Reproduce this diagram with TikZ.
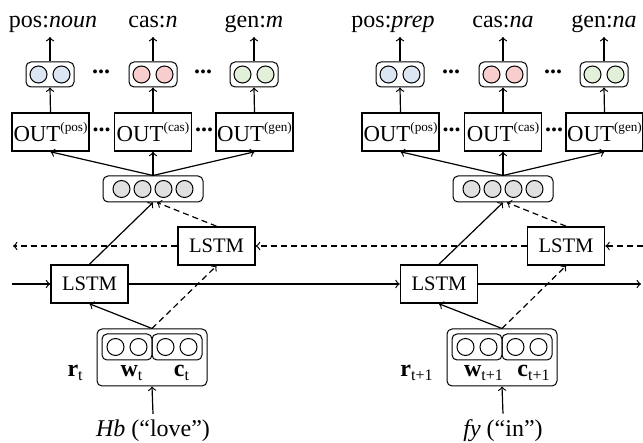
\documentclass[tikz,border=0pt]{standalone}
\usepackage{fontspec}
\setmainfont{Liberation Serif}
\usetikzlibrary{positioning}
\definecolor{posblue}{HTML}{DCE6F2}
\definecolor{casred}{HTML}{F8CDCD}
\definecolor{gengreen}{HTML}{E2EFD9}
\definecolor{hidgrey}{HTML}{E0E0E0}
\tikzset{lstm/.style={draw,line width=0.8pt,minimum width=38.5pt,minimum height=19pt,inner sep=0pt,
          font=\fontsize{10.3}{12}\selectfont},
        outbox/.style={draw,line width=0.8pt,minimum width=38.5pt,minimum height=19pt,inner sep=0pt,
          font=\fontsize{11.4}{13}\selectfont},
        vec/.style={draw,rounded corners=2.5pt,line width=0.5pt,inner sep=0pt},
        pair/.style={vec,minimum width=24pt,minimum height=12.5pt},
        unit/.style={draw,circle,line width=0.5pt,minimum size=8.5pt,inner sep=0pt},
        tag/.style={anchor=south,inner sep=2pt,text depth=2.5pt},
        word/.style={anchor=base,inner sep=3pt},
        dots/.style={inner sep=0pt,font=\fontsize{12}{14}\selectfont\bfseries},
        link/.style={->,line width=0.6pt},
        back/.style={->,line width=0.6pt,dash pattern=on 3pt off 2pt}}
\newcommand{\outtag}[1]{OUT\raisebox{0.42em}{\fontsize{6.6}{7}\selectfont(#1)}}

\begin{document}
\begin{tikzpicture}[x=0.5pt,y=-0.5pt,font=\fontsize{12}{14}\selectfont]
\useasboundingbox (0,0) rectangle (643,443);

% word t
\node[tag] (posta) at (53,37) {pos:\textit{noun}};
\node[tag] (casta) at (153,37) {cas:\textit{n}};
\node[tag] (genta) at (254,37) {gen:\textit{m}};
\node[pair] (posa) at (50,74.5) {};
\node[unit,fill=posblue] (posa1) at ([xshift=-5.75pt]posa.center) {};
\node[unit,fill=posblue] (posa2) at ([xshift=5.75pt]posa.center) {};
\node[pair] (casa) at (153,74.5) {};
\node[unit,fill=casred] (casa1) at ([xshift=-5.75pt]casa.center) {};
\node[unit,fill=casred] (casa2) at ([xshift=5.75pt]casa.center) {};
\node[pair] (gena) at (254,74.5) {};
\node[unit,fill=gengreen] (gena1) at ([xshift=-5.75pt]gena.center) {};
\node[unit,fill=gengreen] (gena2) at ([xshift=5.75pt]gena.center) {};
\node[dots] (dotsa1) at (101,72) {...};
\node[dots] (dotsa2) at (203,72) {...};
\node[outbox] (outposa) at (50.5,132) {\outtag{pos}};
\node[outbox] (outcasa) at (153,132) {\outtag{cas}};
\node[outbox] (outgena) at (254.5,132) {\outtag{gen}};
\node[dots] (dotsa3) at (101.5,130) {...};
\node[dots] (dotsa4) at (204,130) {...};
\node[vec,minimum width=50pt,minimum height=13pt] (hida) at (153,189) {};
\node[unit,fill=hidgrey] (hida1) at ([xshift=-15.75pt]hida.center) {};
\node[unit,fill=hidgrey] (hida2) at ([xshift=-5.25pt]hida.center) {};
\node[unit,fill=hidgrey] (hida3) at ([xshift=5.25pt]hida.center) {};
\node[unit,fill=hidgrey] (hida4) at ([xshift=15.75pt]hida.center) {};
\node[lstm] (bwda) at (216.5,246) {LSTM};
\node[lstm] (fwda) at (89.5,284) {LSTM};
\node[vec,minimum width=55pt,minimum height=28.5pt] (ina) at (152,357.5) {};
\node[vec,minimum width=25pt,minimum height=13pt] (wa) at (127,347) {};
\node[vec,minimum width=25pt,minimum height=13pt] (ca) at (177,347) {};
\node[unit] (wa1) at ([xshift=-5.75pt]wa.center) {};
\node[unit] (wa2) at ([xshift=5.75pt]wa.center) {};
\node[unit] (ca1) at ([xshift=-5.75pt]ca.center) {};
\node[unit] (ca2) at ([xshift=5.75pt]ca.center) {};
\node[inner sep=0pt] (wla) at (132,373) {\textbf{w}\textsubscript{t}};
\node[inner sep=0pt] (cla) at (182,373) {\textbf{c}\textsubscript{t}};
\node[inner sep=0pt,anchor=east] (rla) at (84,373) {\textbf{r}\textsubscript{t}};
\node[word] (worda) at (153,437) {\textit{Hb} (``love'')};

% word t+1
\node[tag] (posti) at (393,37) {pos:\textit{prep}};
\node[tag] (casti) at (503,37) {cas:\textit{na}};
\node[tag] (genti) at (604,37) {gen:\textit{na}};
\node[pair] (posb) at (400,74.5) {};
\node[unit,fill=posblue] (posb1) at ([xshift=-5.75pt]posb.center) {};
\node[unit,fill=posblue] (posb2) at ([xshift=5.75pt]posb.center) {};
\node[pair] (casb) at (503,74.5) {};
\node[unit,fill=casred] (casb1) at ([xshift=-5.75pt]casb.center) {};
\node[unit,fill=casred] (casb2) at ([xshift=5.75pt]casb.center) {};
\node[pair] (genb) at (604,74.5) {};
\node[unit,fill=gengreen] (genb1) at ([xshift=-5.75pt]genb.center) {};
\node[unit,fill=gengreen] (genb2) at ([xshift=5.75pt]genb.center) {};
\node[dots] (dotsb1) at (451,72) {...};
\node[dots] (dotsb2) at (553,72) {...};
\node[outbox] (outposb) at (400.5,132) {\outtag{pos}};
\node[outbox] (outcasb) at (503,132) {\outtag{cas}};
\node[outbox] (outgenb) at (604.5,132) {\outtag{gen}};
\node[dots] (dotsb3) at (451.5,130) {...};
\node[dots] (dotsb4) at (554,130) {...};
\node[vec,minimum width=50pt,minimum height=13pt] (hidb) at (503,189) {};
\node[unit,fill=hidgrey] (hidb1) at ([xshift=-15.75pt]hidb.center) {};
\node[unit,fill=hidgrey] (hidb2) at ([xshift=-5.25pt]hidb.center) {};
\node[unit,fill=hidgrey] (hidb3) at ([xshift=5.25pt]hidb.center) {};
\node[unit,fill=hidgrey] (hidb4) at ([xshift=15.75pt]hidb.center) {};
\node[lstm] (bwdb) at (566,246) {LSTM};
\node[lstm] (fwdb) at (439,284) {LSTM};
\node[vec,minimum width=55pt,minimum height=28.5pt] (inb) at (502,357.5) {};
\node[vec,minimum width=25pt,minimum height=13pt] (wb) at (477,347) {};
\node[vec,minimum width=25pt,minimum height=13pt] (cb) at (527,347) {};
\node[unit] (wb1) at ([xshift=-5.75pt]wb.center) {};
\node[unit] (wb2) at ([xshift=5.75pt]wb.center) {};
\node[unit] (cb1) at ([xshift=-5.75pt]cb.center) {};
\node[unit] (cb2) at ([xshift=5.75pt]cb.center) {};
\node[inner sep=0pt] (wlb) at (484,373) {\textbf{w}\textsubscript{t+1}};
\node[inner sep=0pt] (clb) at (534,373) {\textbf{c}\textsubscript{t+1}};
\node[inner sep=0pt,anchor=east] (rlb) at (434,373) {\textbf{r}\textsubscript{t+1}};
\node[word] (wordb) at (503,437) {\textit{fy} (``in'')};

% outputs
\draw[link] (posa.north) -- (posa.north |- posta.south);
\draw[link] (casa.north) -- (casta.south);
\draw[link] (gena.north) -- (genta.south);
\draw[link] (outposa.north) -- (posa.south);
\draw[link] (outcasa.north) -- (casa.south);
\draw[link] (outgena.north) -- (gena.south);
\draw[link] (hida.north) -- (outposa.south);
\draw[link] (hida.north) -- (outcasa.south);
\draw[link] (hida.north) -- (outgena.south);
\draw[link] (posb.north) -- (posb.north |- posti.south);
\draw[link] (casb.north) -- (casti.south);
\draw[link] (genb.north) -- (genti.south);
\draw[link] (outposb.north) -- (posb.south);
\draw[link] (outcasb.north) -- (casb.south);
\draw[link] (outgenb.north) -- (genb.south);
\draw[link] (hidb.north) -- (outposb.south);
\draw[link] (hidb.north) -- (outcasb.south);
\draw[link] (hidb.north) -- (outgenb.south);

% bi-lstm
\coordinate (fwdin) at (12,284);
\coordinate (fwdout) at (641,284);
\coordinate (bwdin) at (643,246);
\coordinate (bwdout) at (13,246);
\draw[link] (fwdin) -- (fwda.west);
\draw[link] (fwda.east) -- (fwdb.west);
\draw[link] (fwdb.east) -- (fwdout);
\draw[back] (bwdin) -- (bwdb.east);
\draw[back] (bwdb.west) -- (bwda.east);
\draw[back] (bwda.west) -- (bwdout);
\draw[link] (fwda.north) -- (hida.south);
\draw[back] (bwda.north) -- ([xshift=2pt]hida.south);
\draw[link] (fwdb.north) -- (hidb.south);
\draw[back] (bwdb.north) -- ([xshift=2pt]hidb.south);
\draw[link] (ina.north) -- (fwda.south);
\draw[back] (ina.north) -- (bwda.south);
\draw[link] (inb.north) -- (fwdb.south);
\draw[back] (inb.north) -- (bwdb.south);
\draw[link] (worda.north) -- (ina.south);
\draw[link] (wordb.north) -- (inb.south);
\end{tikzpicture}
\end{document}
